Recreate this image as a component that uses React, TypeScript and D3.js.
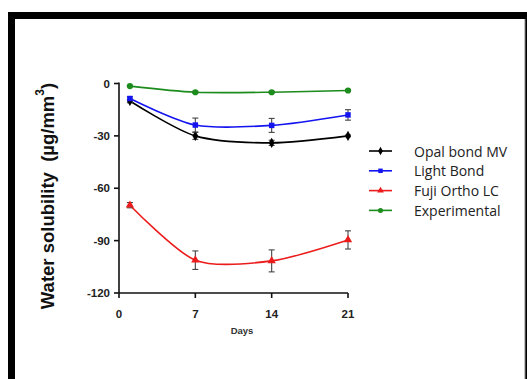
import React from "react";
import * as d3 from "d3";

const DAYS = [1, 7, 14, 21];
const X_TICKS = [0, 7, 14, 21];
const Y_TICKS = [0, -30, -60, -90, -120];

const SERIES_NAMES = ["Opal bond MV", "Light Bond", "Fuji Ortho LC", "Experimental"];
const SERIES_COLORS = ["#000000", "#1414f0", "#ec1c1c", "#1c8c1c"];
const SERIES_SYMBOLS = [d3.symbolDiamond, d3.symbolSquare, d3.symbolTriangle, d3.symbolCircle];

const OPAL = [-10, -30, -34, -30];
const LIGHT = [-8.6, -23.8, -24, -18];
const FUJI = [-69.7, -101.2, -101.6, -89.6];
const EXPER = [-1.5, -5, -5, -4];

const OPAL_ERR = [1, 2, 1.5, 0.5];
const LIGHT_ERR = [1, 4, 4, 3];
const FUJI_ERR = [1.5, 5.3, 6.3, 5.2];
const EXPER_ERR = [0.3, 0.5, 0.5, 0.5];

const VALUES = [OPAL, LIGHT, FUJI, EXPER];
const ERRORS = [OPAL_ERR, LIGHT_ERR, FUJI_ERR, EXPER_ERR];

const W = 527;
const H = 379;

export default function App() {
  const x = d3.scaleLinear().domain([0, 21]).range([119, 348]);
  const y = d3.scaleLinear().domain([0, -120]).range([83.5, 293]);

  const line = d3
    .line<number>()
    .x((_, i) => x(DAYS[i]))
    .y((d) => y(d))
    .curve(d3.curveCardinal.tension(0.2));

  const tickFont = "'Liberation Sans', Arial, sans-serif";

  return (
    <div style={{ position: "absolute", left: 0, top: 0 }}>
      <svg width={W} height={H} style={{ display: "block" }}>
        {/* frame */}
        <rect x={0} y={0} width={W} height={H} fill="#fff" />
        <rect x={8} y={12} width={W - 8} height={H} fill="#000" />
        <rect x={15} y={19} width={510} height={H} fill="#fff" />
        <line x1={525} y1={19} x2={525} y2={H} stroke="#888" strokeWidth={1} />

        {/* axes */}
        <g stroke="#111" strokeWidth={1.6} fill="none">
          <line x1={x(0)} y1={y(0) - 1} x2={x(0)} y2={y(-120)} />
          <line x1={x(0)} y1={y(-120)} x2={x(21)} y2={y(-120)} />
          {Y_TICKS.map((t) => (
            <line key={t} x1={x(0) - 5} y1={y(t)} x2={x(0)} y2={y(t)} />
          ))}
          {X_TICKS.map((t) => (
            <line key={t} x1={x(t)} y1={y(-120)} x2={x(t)} y2={y(-120) + 5} />
          ))}
        </g>
        {Y_TICKS.map((t) => (
          <text
            key={t}
            x={x(0) - 9}
            y={y(t)}
            textAnchor="end"
            dominantBaseline="central"
            fontFamily={tickFont}
            fontWeight={700}
            fontSize={11.5}
            fill="#222"
          >
            {t}
          </text>
        ))}
        {X_TICKS.map((t) => (
          <text
            key={t}
            x={x(t)}
            y={y(-120) + 21}
            textAnchor="middle"
            dominantBaseline="central"
            fontFamily={tickFont}
            fontWeight={700}
            fontSize={11.5}
            fill="#222"
          >
            {t}
          </text>
        ))}
        <text
          x={242}
          y={330}
          textAnchor="middle"
          dominantBaseline="central"
          fontFamily={tickFont}
          fontWeight={700}
          fontSize={9.5}
          fill="#333"
        >
          Days
        </text>
        <text
          transform={`translate(47,196) rotate(-90)`}
          textAnchor="middle"
          dominantBaseline="central"
          fontFamily={tickFont}
          fontWeight={700}
          fontSize={18.5}
          fill="#111"
        >
          Water solubility{"\u00a0\u00a0"}(µg/mm<tspan dy={-7} fontSize={12}>3</tspan>
          <tspan dy={7}>)</tspan>
        </text>

        {/* series */}
        {VALUES.map((vals, s) => (
          <g key={s}>
            <path d={line(vals) || ""} fill="none" stroke={SERIES_COLORS[s]} strokeWidth={1.6} />
            {vals.map((v, i) => {
              const e = ERRORS[s][i];
              const cx = x(DAYS[i]);
              return (
                <g key={i} stroke="#444" strokeWidth={1.1}>
                  <line x1={cx} y1={y(v + e)} x2={cx} y2={y(v - e)} />
                  <line x1={cx - 3} y1={y(v + e)} x2={cx + 3} y2={y(v + e)} />
                  <line x1={cx - 3} y1={y(v - e)} x2={cx + 3} y2={y(v - e)} />
                </g>
              );
            })}
            {vals.map((v, i) => (
              <path
                key={`m${i}`}
                d={d3.symbol(SERIES_SYMBOLS[s], 30)() || ""}
                transform={`translate(${x(DAYS[i])},${y(v)})`}
                fill={SERIES_COLORS[s]}
              />
            ))}
          </g>
        ))}

        {/* legend */}
        {SERIES_NAMES.map((name, s) => {
          const ly = 151 + s * 19.8;
          return (
            <g key={name}>
              <line x1={369} y1={ly} x2={392} y2={ly} stroke={SERIES_COLORS[s]} strokeWidth={1.6} />
              <path
                d={d3.symbol(SERIES_SYMBOLS[s], 20)() || ""}
                transform={`translate(380.5,${ly})`}
                fill={SERIES_COLORS[s]}
              />
              <text
                x={414}
                y={ly}
                dominantBaseline="central"
                fontFamily="'Open Sans', 'Noto Sans', sans-serif"
                fontSize={14}
                fill="#222"
              >
                {name}
              </text>
            </g>
          );
        })}
      </svg>
    </div>
  );
}
